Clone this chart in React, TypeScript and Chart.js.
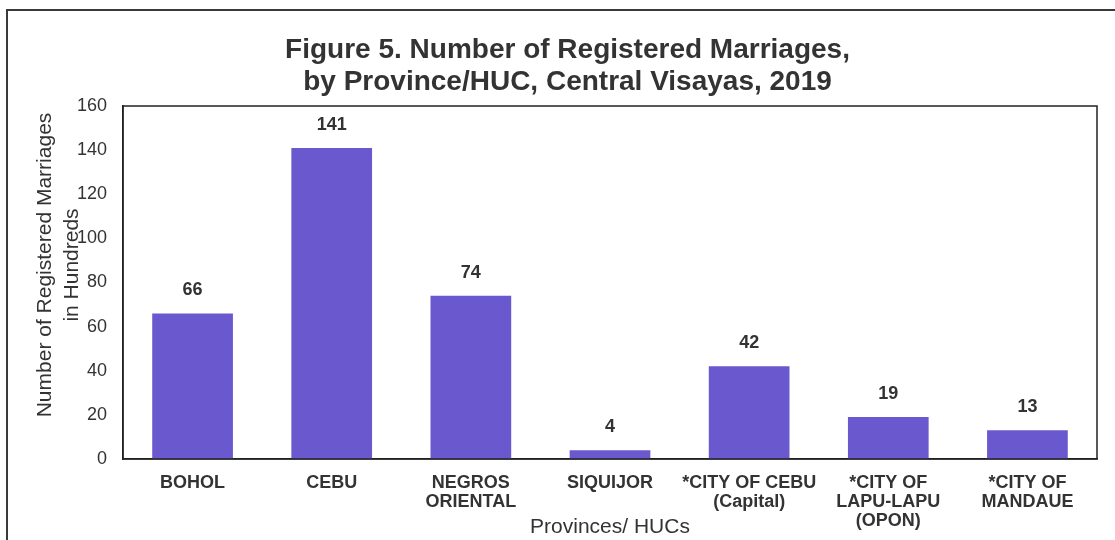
import React, { useEffect, useRef } from "react";
import { Chart, registerables } from "chart.js";

Chart.register(...registerables);

const categories: string[][] = [
  ["BOHOL"],
  ["CEBU"],
  ["NEGROS", "ORIENTAL"],
  ["SIQUIJOR"],
  ["*CITY OF CEBU", "(Capital)"],
  ["*CITY OF", "LAPU-LAPU", "(OPON)"],
  ["*CITY OF", "MANDAUE"],
];
const marriages: number[] = [66, 141, 74, 4, 42, 19, 13];
const titleLines: string[] = [
  "Figure 5. Number of Registered Marriages,",
  "by Province/HUC, Central Visayas, 2019",
];
const yTitleLines: string[] = ["      Number of Registered Marriages", "      in Hundreds"];
const xTitle = "Provinces/ HUCs";

const FONT = "'Liberation Sans', Arial, Helvetica, sans-serif";
const TEXT = "#333333";
const BAR = "#6A58CF";

const framePlugin = {
  id: "frame",
  beforeDraw(chart: any) {
    const { ctx, width, height } = chart;
    ctx.save();
    ctx.fillStyle = "#ffffff";
    ctx.fillRect(0, 0, width, height);
    ctx.strokeStyle = "#3a3a3a";
    ctx.lineWidth = 2;
    ctx.strokeRect(7, 10, width + 40, height + 40);
    ctx.restore();
  },
  afterDatasetsDraw(chart: any) {
    const { ctx, chartArea } = chart;
    ctx.save();
    ctx.strokeStyle = "#222222";
    ctx.lineWidth = 1.5;
    ctx.strokeRect(chartArea.left, chartArea.top, chartArea.right - chartArea.left, chartArea.bottom - chartArea.top);
    const meta = chart.getDatasetMeta(0);
    ctx.fillStyle = TEXT;
    ctx.font = `bold 18px ${FONT}`;
    ctx.textAlign = "center";
    ctx.textBaseline = "middle";
    meta.data.forEach((bar: any, i: number) => {
      const v = chart.data.datasets[0].data[i];
      ctx.fillText(String(v), bar.x, bar.y - 23);
    });
    ctx.restore();
  },
};

export default function App() {
  const ref = useRef<HTMLCanvasElement | null>(null);
  useEffect(() => {
    if (!ref.current) return;
    const chart = new Chart(ref.current, {
      type: "bar",
      data: {
        labels: categories,
        datasets: [
          {
            data: marriages,
            backgroundColor: BAR,
            borderWidth: 0,
            categoryPercentage: 1,
            barPercentage: 0.58,
          },
        ],
      },
      options: {
        responsive: false,
        animation: false,
        layout: { padding: { left: 38, right: 18, top: 0, bottom: 0 } },
        plugins: {
          legend: { display: false },
          tooltip: { enabled: false },
          title: {
            display: true,
            text: titleLines,
            color: TEXT,
            font: { family: FONT, size: 28, weight: "bold", lineHeight: 1.143 },
            padding: { top: 34, bottom: 8 },
          },
        },
        scales: {
          x: {
            grid: { display: false, drawTicks: false },
            border: { display: true, color: "#222222", width: 1.5 },
            ticks: {
              color: TEXT,
              autoSkip: false,
              maxRotation: 0,
              minRotation: 0,
              padding: 15,
              font: { family: FONT, size: 18, weight: "bold", lineHeight: 1.05 },
            },
            title: {
              display: true,
              text: xTitle,
              color: TEXT,
              font: { family: FONT, size: 21, lineHeight: 1.2 },
              padding: { top: 0, bottom: 0 },
            },
            afterFit(scale: any) {
              scale.height = 81;
            },
          },
          y: {
            min: 0,
            max: 160,
            grid: { display: false, drawTicks: false },
            border: { display: true, color: "#222222", width: 1.5 },
            ticks: {
              stepSize: 20,
              color: TEXT,
              padding: 16,
              font: { family: FONT, size: 18 },
            },
            title: {
              display: true,
              text: yTitleLines,
              color: TEXT,
              font: { family: FONT, size: 21, lineHeight: 1.286 },
              padding: { top: -6, bottom: 0 },
            },
            afterFit(scale: any) {
              scale.width = 85;
            },
          },
        },
      },
      plugins: [framePlugin],
    });
    return () => chart.destroy();
  }, []);
  return (
    <div style={{ position: "absolute", left: 0, top: 0, width: 1115, height: 540 }}>
      <canvas ref={ref} width={1115} height={540} style={{ display: "block" }} />
    </div>
  );
}
